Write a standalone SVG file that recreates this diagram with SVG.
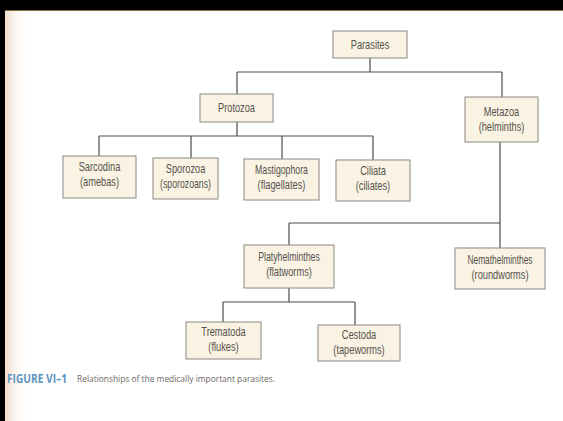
<svg xmlns="http://www.w3.org/2000/svg" width="563" height="421" viewBox="0 0 563 421">
<defs>
<linearGradient id="lg" x1="0" y1="0" x2="1" y2="0">
<stop offset="0" stop-color="#f3dccb"/>
<stop offset="1" stop-color="#ffffff" stop-opacity="0"/>
</linearGradient>
</defs>
<style>
.box{fill:#faf3e3;stroke:#8a8782;stroke-width:1}
.t{font-family:"Liberation Sans",Arial,sans-serif;font-size:12.5px;fill:#55524e;text-anchor:middle}
.ln{stroke:#4e4c4a;stroke-width:1.2;fill:none}
</style>
<rect x="0" y="0" width="563" height="421" fill="#ffffff"/>
<rect x="5" y="10" width="24" height="411" fill="url(#lg)"/>
<rect x="0" y="0" width="563" height="10" fill="#000"/>
<line x1="5" y1="10.5" x2="563" y2="10.5" stroke="#8a6d45" stroke-width="1"/>
<rect x="0" y="0" width="5" height="421" fill="#000"/>
<g id="connectors">
<path class="ln" d="M370 58V72M237 72H502M237 72V94M502 72V97"/>
<path class="ln" d="M237 122V136M99 136H373M99 136V156M191 136V158M282 136V159M373 136V160"/>
<path class="ln" d="M500 142V248M289 223H500M289 223V245"/>
<path class="ln" d="M289 288V302M223 302H355M223 302V322M355 302V325"/>
</g>
<g id="parasites"><rect class="box" x="333" y="31" width="74" height="27"/><text class="t" transform="matrix(0.74 0 0 1 370 0)" y="49">Parasites</text></g>
<g id="protozoa"><rect class="box" x="200" y="94" width="73" height="28"/><text class="t" transform="matrix(0.74 0 0 1 236.5 0)" y="112.5">Protozoa</text></g>
<g id="metazoa"><rect class="box" x="465" y="97" width="73" height="45"/><text class="t" transform="matrix(0.74 0 0 1 501.5 0)" y="116">Metazoa</text><text class="t" transform="matrix(0.74 0 0 1 501.5 0)" y="131">(helminths)</text></g>
<g id="sarcodina"><rect class="box" x="63" y="156" width="73" height="42"/><text class="t" transform="matrix(0.74 0 0 1 99.5 0)" y="171">Sarcodina</text><text class="t" transform="matrix(0.74 0 0 1 99.5 0)" y="186">(amebas)</text></g>
<g id="sporozoa"><rect class="box" x="153" y="158" width="65" height="41"/><text class="t" transform="matrix(0.74 0 0 1 185.5 0)" y="173">Sporozoa</text><text class="t" transform="matrix(0.7 0 0 1 185.5 0)" y="188">(sporozoans)</text></g>
<g id="mastigophora"><rect class="box" x="244" y="159" width="75" height="41"/><text class="t" transform="matrix(0.7 0 0 1 281.5 0)" y="174">Mastigophora</text><text class="t" transform="matrix(0.74 0 0 1 281.5 0)" y="189">(flagellates)</text></g>
<g id="ciliata"><rect class="box" x="336" y="160" width="74" height="41"/><text class="t" transform="matrix(0.74 0 0 1 373 0)" y="175">Ciliata</text><text class="t" transform="matrix(0.74 0 0 1 373 0)" y="190">(ciliates)</text></g>
<g id="platyhelminthes"><rect class="box" x="244" y="245" width="90" height="43"/><text class="t" transform="matrix(0.7 0 0 1 289 0)" y="261">Platyhelminthes</text><text class="t" transform="matrix(0.74 0 0 1 289 0)" y="276">(flatworms)</text></g>
<g id="nemathelminthes"><rect class="box" x="455" y="248" width="90" height="41"/><text class="t" transform="matrix(0.67 0 0 1 500 0)" y="264">Nemathelminthes</text><text class="t" transform="matrix(0.74 0 0 1 500 0)" y="279">(roundworms)</text></g>
<g id="trematoda"><rect class="box" x="186" y="322" width="75" height="37"/><text class="t" transform="matrix(0.74 0 0 1 223.5 0)" y="336">Trematoda</text><text class="t" transform="matrix(0.74 0 0 1 223.5 0)" y="351">(flukes)</text></g>
<g id="cestoda"><rect class="box" x="318" y="325" width="82" height="36"/><text class="t" transform="matrix(0.74 0 0 1 359 0)" y="339">Cestoda</text><text class="t" transform="matrix(0.74 0 0 1 359 0)" y="354">(tapeworms)</text></g>
<g id="caption">
<text x="7" y="383" font-family="'Open Sans','Liberation Sans',sans-serif" font-weight="bold" font-size="13" fill="#5b95c2" textLength="60" lengthAdjust="spacingAndGlyphs">FIGURE VI–1</text>
<text x="77" y="382" font-family="'Open Sans','Liberation Sans',sans-serif" font-size="9.5" fill="#6a6865" textLength="198" lengthAdjust="spacingAndGlyphs">Relationships of the medically important parasites.</text>
</g>
</svg>
